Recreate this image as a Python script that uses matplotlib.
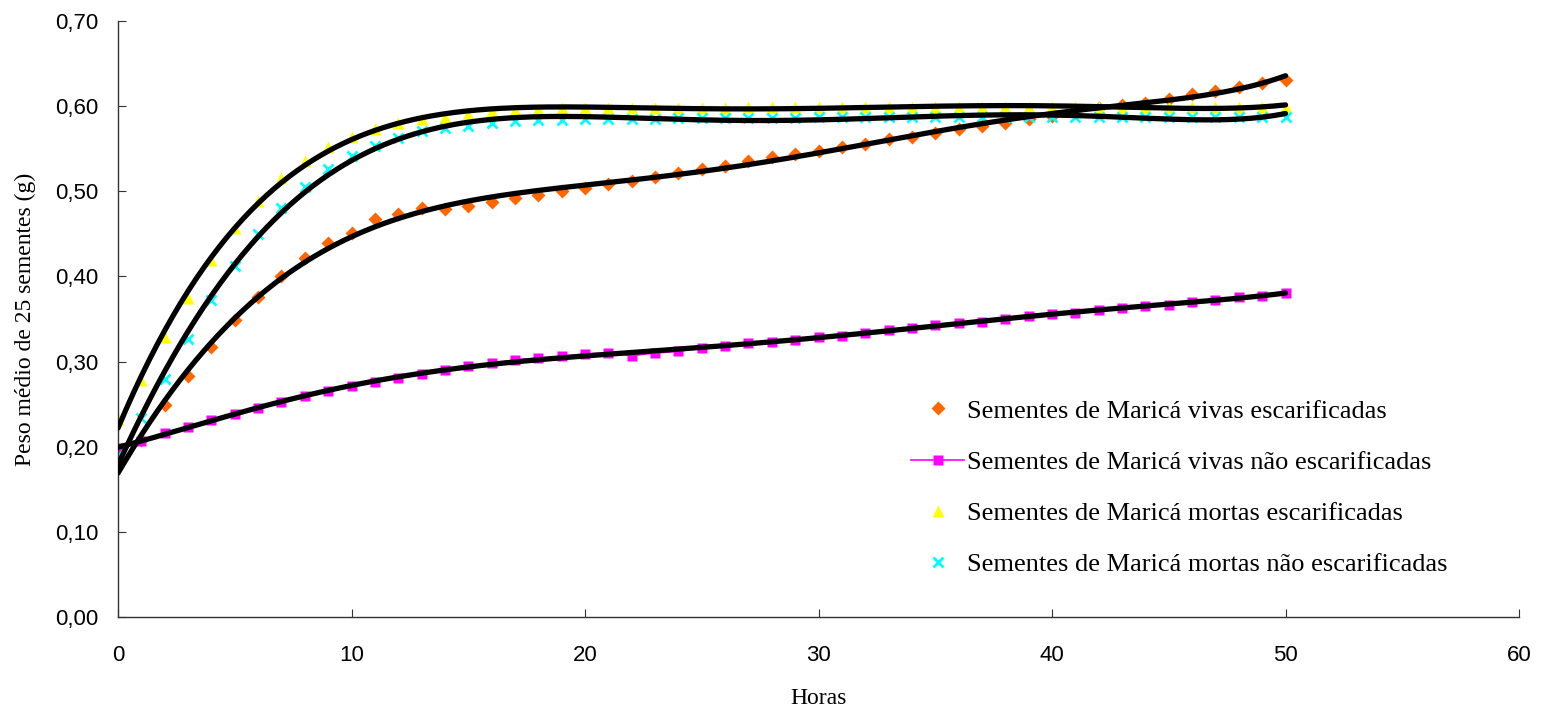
import matplotlib as mpl
mpl.use('Agg')
import matplotlib.pyplot as plt
from matplotlib.ticker import FuncFormatter
import numpy as np

# hours 0..50
horas = np.arange(0, 51)

vivas_escar = [0.181, 0.208, 0.249, 0.283, 0.317, 0.349, 0.376, 0.400, 0.422, 0.439,
               0.451, 0.467, 0.473, 0.480, 0.479, 0.483, 0.487, 0.492, 0.496, 0.500,
               0.504, 0.509, 0.512, 0.517, 0.521, 0.526, 0.530, 0.535, 0.540, 0.544,
               0.547, 0.552, 0.556, 0.561, 0.564, 0.569, 0.573, 0.577, 0.580, 0.585,
               0.589, 0.594, 0.598, 0.601, 0.604, 0.608, 0.614, 0.618, 0.623, 0.627,
               0.631]
vivas_nao = [0.198, 0.207, 0.216, 0.223, 0.231, 0.239, 0.246, 0.253, 0.259, 0.265,
             0.271, 0.276, 0.281, 0.285, 0.290, 0.295, 0.298, 0.302, 0.304, 0.306,
             0.309, 0.310, 0.307, 0.310, 0.312, 0.316, 0.318, 0.322, 0.323, 0.325,
             0.329, 0.330, 0.334, 0.337, 0.340, 0.343, 0.345, 0.347, 0.350, 0.353,
             0.356, 0.357, 0.360, 0.363, 0.365, 0.367, 0.370, 0.372, 0.376, 0.377,
             0.380]
mortas_escar = [0.233, 0.278, 0.329, 0.375, 0.419, 0.457, 0.489, 0.516, 0.536, 0.552,
                0.564, 0.573, 0.580, 0.585, 0.587, 0.591, 0.594, 0.596, 0.597, 0.598,
                0.598, 0.598, 0.598, 0.598, 0.598, 0.598, 0.598, 0.599, 0.599, 0.599,
                0.599, 0.599, 0.599, 0.599, 0.599, 0.599, 0.599, 0.599, 0.599, 0.599,
                0.599, 0.599, 0.599, 0.599, 0.599, 0.599, 0.599, 0.599, 0.599, 0.599,
                0.599]
mortas_nao = [0.190, 0.234, 0.280, 0.326, 0.372, 0.412, 0.450, 0.480, 0.505, 0.526,
              0.541, 0.553, 0.563, 0.571, 0.574, 0.577, 0.580, 0.583, 0.584, 0.584,
              0.585, 0.585, 0.585, 0.585, 0.586, 0.586, 0.586, 0.586, 0.586, 0.586,
              0.587, 0.587, 0.587, 0.587, 0.587, 0.587, 0.587, 0.587, 0.587, 0.587,
              0.587, 0.587, 0.587, 0.587, 0.587, 0.587, 0.587, 0.587, 0.587, 0.587,
              0.587]

labels = ["Sementes de Maricá vivas escarificadas",
          "Sementes de Maricá vivas não escarificadas",
          "Sementes de Maricá mortas escarificadas",
          "Sementes de Maricá mortas não escarificadas"]

fig = plt.figure(figsize=(15.41, 7.10), dpi=100)
ax = fig.add_axes([118 / 1541, 1 - 617 / 710, (1519 - 118) / 1541, (617 - 21) / 710])

h1, = ax.plot(horas, vivas_escar, ls='none', marker='D', ms=7, color='#FF6600', mec='none')
h2, = ax.plot(horas, vivas_nao, ls='-', lw=1.2, marker='s', ms=7, color='#FF00FF', mec='none')
h3, = ax.plot(horas, mortas_escar, ls='none', marker='^', ms=8, color='#FFFF00', mec='none')
h4, = ax.plot(horas, mortas_nao, ls='none', marker='x', ms=7, mew=2, color='#00FFFF')

# polynomial trendlines (order 6), like the spreadsheet ones
xs = np.linspace(0, 50, 300)
for serie in (vivas_escar, vivas_nao, mortas_escar, mortas_nao):
	coef = np.polyfit(horas, serie, 6)
	ax.plot(xs, np.polyval(coef, xs), color='black', lw=3.8, solid_capstyle='round', zorder=5)

ax.set_xlim(0, 60)
ax.set_ylim(0, 0.70)
ax.set_xticks(np.arange(0, 61, 10))
ax.set_yticks(np.arange(0, 0.71, 0.10))
ax.yaxis.set_major_formatter(FuncFormatter(lambda v, p: ("%.2f" % v).replace('.', ',')))

ax.spines['top'].set_visible(False)
ax.spines['right'].set_visible(False)
for s in ('left', 'bottom'):
	ax.spines[s].set_color('#333333')
	ax.spines[s].set_linewidth(1.0)
ax.tick_params(axis='both', direction='in', length=6, color='#333333',
               labelsize=16, labelfontfamily='Liberation Sans')
ax.tick_params(axis='x', pad=20)
ax.tick_params(axis='y', pad=14)

ax.set_xlabel("Horas", fontsize=17, family='Liberation Serif', labelpad=16)
ax.set_ylabel("Peso médio de 25 sementes (g)", fontsize=17, family='Liberation Serif', labelpad=14)

fig.legend([h1, h2, h3, h4], labels, loc='upper left',
           bbox_to_anchor=(898 / 1541, 1 - 386 / 710), frameon=False,
           prop={'family': 'Liberation Serif', 'size': 19},
           handlelength=2.0, handletextpad=0.12, labelspacing=1.05, borderpad=0)

plt.savefig("out.png", dpi=100)
